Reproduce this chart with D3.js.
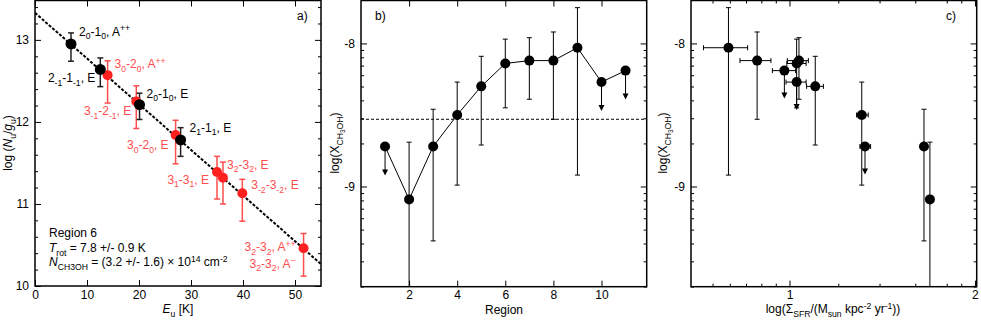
<!DOCTYPE html>
<html>
<head>
<meta charset="utf-8">
<script src="https://cdn.jsdelivr.net/npm/d3@7.9.0/dist/d3.min.js"></script>
<style>
  body { margin: 0; background: #fff; }
  svg { display: block; font-family: "Liberation Sans", Arial, sans-serif; }
  .tick text { font-size: 12px; fill: #000; }
  .tick line { stroke: #000; }
</style>
</head>
<body>
<svg id="fig" width="981" height="323"></svg>
<script>
// ---- panel a: rotation diagram of region 6 ----
const blackE = [6.92, 12.56, 20.1, 28.0];
const blackLogN = [12.95, 12.64, 12.21, 11.78];
const blackHi = [13.085, 12.78, 12.35, 11.93];
const blackLo = [12.74, 12.43, 12.03, 11.58];
const blackLabels = [
  [['2'], ['0', 'sub'], ['-1'], ['0', 'sub'], [', A'], ['++', 'sup']],
  [['2'], ['-1', 'sub'], ['-1'], ['-1', 'sub'], [', E']],
  [['2'], ['0', 'sub'], ['-1'], ['0', 'sub'], [', E']],
  [['2'], ['1', 'sub'], ['-1'], ['1', 'sub'], [', E']]
];

const redE = [13.96, 19.48, 27.04, 35.0, 36.15, 39.87, 51.65];
const redLogN = [12.57, 12.25, 11.84, 11.39, 11.32, 11.13, 10.46];
const redHi = [12.745, 12.44, 12.02, 11.58, 11.51, 11.30, 10.64];
const redLo = [12.23, 11.92, 11.49, 11.06, 11.0, 10.79, 10.12];
const redLabels = [
  [['3'], ['0', 'sub'], ['-2'], ['0', 'sub'], [', A'], ['++', 'sup']],
  [['3'], ['-1', 'sub'], ['-2'], ['-1', 'sub'], [', E']],
  [['3'], ['0', 'sub'], ['-2'], ['0', 'sub'], [', E']],
  [['3'], ['1', 'sub'], ['-3'], ['1', 'sub'], [', E']],
  [['3'], ['2', 'sub'], ['-3'], ['2', 'sub'], [', E']],
  [['3'], ['-2', 'sub'], ['-3'], ['-2', 'sub'], [', E']],
  [['3'], ['2', 'sub'], ['-3'], ['2', 'sub'], [', A'], ['++', 'sup']]
];
const extraLabel = [['3'], ['2', 'sub'], ['-3'], ['2', 'sub'], [', A'], ['\u2212', 'sup']];

const fitIntercept = 13.33;
const fitTrot = 7.8;

// ---- panel b / c: abundance per region ----
const regions = [1, 2, 3, 4, 5, 6, 7, 8, 9, 10, 11];
const logX = [-8.72, -9.09, -8.72, -8.50, -8.30, -8.14, -8.12, -8.12, -8.03, -8.27, -8.19];
const logXHi = [null, -8.69, -8.46, -8.27, -8.09, -7.97, -7.96, -7.92, -7.75, null, null];
const logXLo = [null, -10.3, -9.38, -8.99, -8.71, -8.45, -8.39, -8.53, -8.92, null, null];
const upperLimit = [true, false, false, false, false, false, false, false, false, true, true];
const thresholdLogX = -8.53;

const sigmaSFR = [1.326, 1.69, 1.653, 1.31, 1.101, 1.027, 1.036, 0.886, 0.796, 1.027, 0.981];
const sigmaLo = [1.301, 1.69, 1.653, 1.285, 1.066, 0.99, 0.992, 0.831, 0.725, 0.987, 0.938];
const sigmaHi = [1.354, 1.69, 1.653, 1.342, 1.135, 1.064, 1.073, 0.933, 0.855, 1.064, 1.023];

const svg = d3.select('#fig');
const RED = '#ff2020';
const RED_LIGHT = '#ff4d4d';

// text with sub/superscripts: parts = [[text, mode, italic]]
function rich(sel, parts) {
  let shift = 0;
  parts.forEach(([t, mode, it]) => {
    let target = 0, size = null;
    if (mode === 'sub') { target = 3.5; size = '0.72em'; }
    if (mode === 'sup') { target = -4.5; size = '0.72em'; }
    if (mode === 'sub2') { target = 6; size = '0.55em'; }
    const ts = sel.append('tspan').text(t).attr('dy', target - shift);
    if (size) ts.attr('font-size', size);
    if (it) ts.attr('font-style', 'italic');
    shift = target;
  });
  return sel;
}

function frame(g, x, y, xt, yt, xMinor, yMinor, xFmt, yFmt) {
  const [x0, x1] = x.range(), [y0, y1] = y.range();
  const strip = s => s.select('.domain').remove();
  g.append('g').attr('transform', `translate(0,${y0})`)
    .call(d3.axisBottom(x).tickValues(xt).tickSize(-6).tickPadding(4).tickFormat(xFmt)).call(strip);
  g.append('g').attr('transform', `translate(0,${y1})`)
    .call(d3.axisTop(x).tickValues(xt).tickSize(-6).tickFormat('')).call(strip);
  g.append('g').attr('transform', `translate(${x0},0)`)
    .call(d3.axisLeft(y).tickValues(yt).tickSize(-6).tickPadding(6).tickFormat(yFmt)).call(strip);
  g.append('g').attr('transform', `translate(${x1},0)`)
    .call(d3.axisRight(y).tickValues(yt).tickSize(-6).tickFormat('')).call(strip);
  if (xMinor.length) {
    g.append('g').attr('transform', `translate(0,${y0})`)
      .call(d3.axisBottom(x).tickValues(xMinor).tickSize(-3).tickFormat('')).call(strip);
    g.append('g').attr('transform', `translate(0,${y1})`)
      .call(d3.axisTop(x).tickValues(xMinor).tickSize(-3).tickFormat('')).call(strip);
  }
  if (yMinor.length) {
    g.append('g').attr('transform', `translate(${x0},0)`)
      .call(d3.axisLeft(y).tickValues(yMinor).tickSize(-3).tickFormat('')).call(strip);
    g.append('g').attr('transform', `translate(${x1},0)`)
      .call(d3.axisRight(y).tickValues(yMinor).tickSize(-3).tickFormat('')).call(strip);
  }
  g.append('rect').attr('x', x0).attr('y', y1).attr('width', x1 - x0).attr('height', y0 - y1)
    .attr('fill', 'none').attr('stroke', '#000').attr('stroke-width', 1.5);
}

function clipFor(id, x, y) {
  svg.append('clipPath').attr('id', id).append('rect')
    .attr('x', x.range()[0]).attr('y', y.range()[1])
    .attr('width', x.range()[1] - x.range()[0]).attr('height', y.range()[0] - y.range()[1]);
  return `url(#${id})`;
}

function vbar(g, x, y1, y2, cap, color, w) {
  g.append('line').attr('x1', x).attr('x2', x).attr('y1', y1).attr('y2', y2)
    .attr('stroke', color).attr('stroke-width', w);
  [y1, y2].forEach(yy => g.append('line').attr('x1', x - cap).attr('x2', x + cap)
    .attr('y1', yy).attr('y2', yy).attr('stroke', color).attr('stroke-width', w));
}

function hbar(g, y, x1, x2, cap) {
  g.append('line').attr('x1', x1).attr('x2', x2).attr('y1', y).attr('y2', y).attr('stroke', '#000');
  [x1, x2].forEach(xx => g.append('line').attr('x1', xx).attr('x2', xx)
    .attr('y1', y - cap).attr('y2', y + cap).attr('stroke', '#000'));
}

function arrowDown(g, x, y, len) {
  g.append('line').attr('x1', x).attr('x2', x).attr('y1', y).attr('y2', y + len - 4).attr('stroke', '#000');
  g.append('path').attr('d', `M${x - 3},${y + len - 6}L${x + 3},${y + len - 6}L${x},${y + len}Z`).attr('fill', '#000');
}

// ================= panel a =================
{
  const g = svg.append('g');
  const x = d3.scaleLinear().domain([0, 55]).range([35, 321]);
  const y = d3.scaleLinear().domain([10, 13.48]).range([286, 0.5]);
  const clip = clipFor('clipA', x, y);
  const yMinor = d3.range(10, 13.5, 0.2).filter(v => Math.abs(v - Math.round(v)) > 0.01);
  frame(g, x, y, [0, 10, 20, 30, 40, 50], [10, 11, 12, 13], [], yMinor, d3.format('d'), d3.format('d'));

  const fit = d3.line().x(d => x(d)).y(d => y(fitIntercept - d * Math.LOG10E / fitTrot));
  g.append('path').attr('d', fit([0, 55])).attr('clip-path', clip)
    .attr('fill', 'none').attr('stroke', '#000').attr('stroke-width', 2).attr('stroke-dasharray', '3,1.6');

  const blackOff = [[8, -8, 'start'], [-5, 13, 'end'], [7, -7, 'start'], [9, -8, 'start']];
  const redOff = [[7, -7, 'start'], [-5, 14, 'end'], [-7, 14, 'end'], [-8, 12, 'end'], [4, -9, 'start'], [9, -4, 'start'], [-8, 3, 'end']];

  redE.forEach((e, i) => vbar(g, x(e), y(redHi[i]), y(redLo[i]), 3, RED_LIGHT, 1.5));
  blackE.forEach((e, i) => vbar(g, x(e), y(blackHi[i]), y(blackLo[i]), 3, '#222', 1.5));
  g.selectAll('.rdot').data(redE).join('circle').attr('cx', d => x(d)).attr('cy', (d, i) => y(redLogN[i]))
    .attr('r', 5).attr('fill', RED);
  g.selectAll('.bdot').data(blackE).join('circle').attr('cx', d => x(d)).attr('cy', (d, i) => y(blackLogN[i]))
    .attr('r', 5.5).attr('fill', '#000');

  blackE.forEach((e, i) => {
    const [dx, dy, anc] = blackOff[i];
    rich(g.append('text').attr('x', x(e) + dx).attr('y', y(blackLogN[i]) + dy)
      .attr('text-anchor', anc).attr('font-size', 12), blackLabels[i]);
  });
  redE.forEach((e, i) => {
    const [dx, dy, anc] = redOff[i];
    rich(g.append('text').attr('x', x(e) + dx).attr('y', y(redLogN[i]) + dy)
      .attr('text-anchor', anc).attr('font-size', 12).attr('fill', RED_LIGHT), redLabels[i]);
  });
  rich(g.append('text').attr('x', x(51.65) - 8).attr('y', y(10.46) + 19.5)
    .attr('text-anchor', 'end').attr('font-size', 12).attr('fill', RED_LIGHT), extraLabel);

  g.append('text').attr('x', 49).attr('y', 237).attr('font-size', 12).text('Region 6');
  rich(g.append('text').attr('x', 49).attr('y', 252).attr('font-size', 12),
    [['T', null, true], ['rot', 'sub'], [' = 7.8 +/- 0.9 K']]);
  rich(g.append('text').attr('x', 49).attr('y', 266).attr('font-size', 12),
    [['N', null, true], ['CH3OH', 'sub'], [' = (3.2 +/- 1.6) \u00d7 10'], ['14', 'sup'], [' cm'], ['-2', 'sup']]);

  g.append('text').attr('x', 297).attr('y', 20).attr('font-size', 12).text('a)');
  rich(g.append('text').attr('x', 178).attr('y', 313).attr('text-anchor', 'middle').attr('font-size', 12),
    [['E', null, true], ['u', 'sub'], [' [K]']]);
  rich(g.append('text').attr('transform', 'translate(12,143) rotate(-90)').attr('text-anchor', 'middle').attr('font-size', 12),
    [['log ('], ['N', null, true], ['u', 'sub'], ['/'], ['g', null, true], ['u', 'sub'], [')']]);
}

// log style minor ticks for the abundance axes
const logMinor = [];
[-10, -9, -8].forEach(d => d3.range(2, 10).forEach(k => logMinor.push(d + Math.log10(k))));
const yAb = () => d3.scaleLinear().domain([-9.7, -7.7]).range([286.7, 0.5]);
const yLabel = [['log(X'], ['CH', 'sub'], ['3', 'sub2'], ['OH', 'sub'], [')']];

// ================= panel b =================
{
  const g = svg.append('g');
  const x = d3.scaleLinear().domain([0, 11.88]).range([361, 646.7]);
  const y = yAb();
  const clip = clipFor('clipB', x, y);
  frame(g, x, y, [2, 4, 6, 8, 10], [-9, -8], [], logMinor.filter(v => v > -9.7 && v < -7.7), d3.format('d'), d => String(d));

  g.append('line').attr('x1', x.range()[0]).attr('x2', x.range()[1])
    .attr('y1', y(thresholdLogX)).attr('y2', y(thresholdLogX))
    .attr('stroke', '#000').attr('stroke-dasharray', '3,2');

  const pg = g.append('g').attr('clip-path', clip);
  regions.forEach((r, i) => {
    if (upperLimit[i]) arrowDown(pg, x(r), y(logX[i]), 29);
    else vbar(pg, x(r), y(logXHi[i]), y(logXLo[i]), 2.5, '#000', 1);
  });
  pg.append('path').attr('d', d3.line().x(d => x(d)).y((d, i) => y(logX[i]))(regions))
    .attr('fill', 'none').attr('stroke', '#000');
  pg.selectAll('circle').data(regions).join('circle').attr('cx', d => x(d)).attr('cy', (d, i) => y(logX[i]))
    .attr('r', 5).attr('fill', '#000');

  g.append('text').attr('x', 375).attr('y', 20).attr('font-size', 12).text('b)');
  g.append('text').attr('x', 504).attr('y', 314).attr('text-anchor', 'middle').attr('font-size', 12).text('Region');
  rich(g.append('text').attr('transform', 'translate(339,143) rotate(-90)').attr('text-anchor', 'middle').attr('font-size', 12), yLabel);
}

// ================= panel c =================
{
  const g = svg.append('g');
  const x = d3.scaleLog().domain([0.692, 2.013]).range([691, 976.7]);
  const y = yAb();
  const clip = clipFor('clipC', x, y);
  const xMinor = [0.75, 0.8, 0.85, 0.9, 0.95, 1.2, 1.4, 1.6, 1.8, 1.9];
  frame(g, x, y, [1, 2], [-9, -8], xMinor, logMinor.filter(v => v > -9.7 && v < -7.7), d3.format('d'), d => String(d));

  const pg = g.append('g').attr('clip-path', clip);
  regions.forEach((r, i) => {
    const px = x(sigmaSFR[i]), py = y(logX[i]);
    if (upperLimit[i]) arrowDown(pg, px, py, 28);
    else vbar(pg, px, y(logXHi[i]), y(logXLo[i]), 2.5, '#000', 1);
    if (sigmaHi[i] > sigmaLo[i]) hbar(pg, py, x(sigmaLo[i]), x(sigmaHi[i]), 2.5);
  });
  pg.selectAll('circle').data(regions).join('circle').attr('cx', (d, i) => x(sigmaSFR[i])).attr('cy', (d, i) => y(logX[i]))
    .attr('r', 5).attr('fill', '#000');

  g.append('text').attr('x', 946).attr('y', 20).attr('font-size', 12).text('c)');
  rich(g.append('text').attr('x', 833).attr('y', 313).attr('text-anchor', 'middle').attr('font-size', 12),
    [['log(\u03a3'], ['SFR', 'sub'], ['/(M'], ['sun', 'sub'], [' kpc'], ['-2', 'sup'], [' yr'], ['-1', 'sup'], ['))']]);
  rich(g.append('text').attr('transform', 'translate(667,143) rotate(-90)').attr('text-anchor', 'middle').attr('font-size', 12), yLabel);
}
</script>
</body>
</html>
